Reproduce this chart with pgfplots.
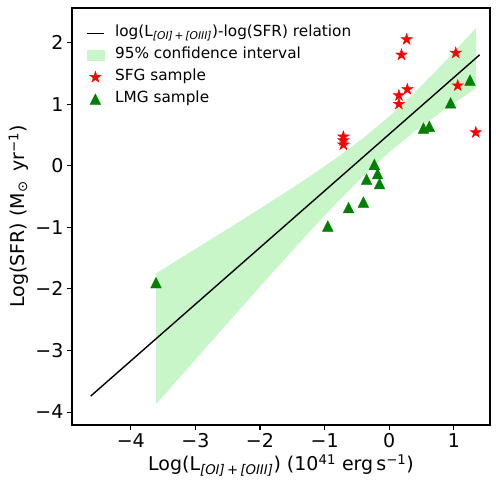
\documentclass[border=0pt]{standalone}
\usepackage{fontspec}
\setmainfont{DejaVu Sans}
\usepackage{pgfplots}
\pgfplotsset{compat=1.18}

\definecolor{bandgreen}{RGB}{200,246,200}
\definecolor{mplgreen}{RGB}{0,128,0}
\definecolor{mplred}{RGB}{255,0,0}

% filled five-pointed star, like matplotlib's '*'
\pgfdeclareplotmark{fstar}{%
  \pgfpathmoveto{\pgfpointpolar{90}{\pgfplotmarksize}}%
  \pgfpathlineto{\pgfpointpolar{126}{0.382\pgfplotmarksize}}%
  \pgfpathlineto{\pgfpointpolar{162}{\pgfplotmarksize}}%
  \pgfpathlineto{\pgfpointpolar{198}{0.382\pgfplotmarksize}}%
  \pgfpathlineto{\pgfpointpolar{234}{\pgfplotmarksize}}%
  \pgfpathlineto{\pgfpointpolar{270}{0.382\pgfplotmarksize}}%
  \pgfpathlineto{\pgfpointpolar{306}{\pgfplotmarksize}}%
  \pgfpathlineto{\pgfpointpolar{342}{0.382\pgfplotmarksize}}%
  \pgfpathlineto{\pgfpointpolar{18}{\pgfplotmarksize}}%
  \pgfpathlineto{\pgfpointpolar{54}{0.382\pgfplotmarksize}}%
  \pgfpathclose
  \pgfusepathqfillstroke}
% triangle as matplotlib draws '^' (centred on its box)
\pgfdeclareplotmark{mtri}{%
  \pgfpathmoveto{\pgfqpoint{0pt}{\pgfplotmarksize}}%
  \pgfpathlineto{\pgfqpoint{-\pgfplotmarksize}{-\pgfplotmarksize}}%
  \pgfpathlineto{\pgfqpoint{\pgfplotmarksize}{-\pgfplotmarksize}}%
  \pgfpathclose
  \pgfusepathqfillstroke}

\pgfplotsset{
  lineleg/.style={legend image code/.code={\draw[##1] (0pt,0pt) -- (17pt,0pt);}},
  boxleg/.style={legend image code/.code={\fill[##1] (0pt,-5pt) rectangle (17pt,5pt);}},
  markleg/.style={legend image code/.code={\draw[##1] plot coordinates {(8.5pt,0pt)};}},
}

\begin{document}
\begin{tikzpicture}
\begin{axis}[
    scale only axis,
    width=418pt, height=417pt,
    xmin=-4.91, xmax=1.56,
    ymin=-4.21, ymax=2.56,
    xtick={-4,-3,-2,-1,0,1},
    xticklabels={−4,−3,−2,−1,0,1},
    ytick={-4,-3,-2,-1,0,1,2},
    yticklabels={−4,−3,−2,−1,0,1,2},
    tick align=outside, tick pos=left,
    major tick length=5pt,
    every tick/.style={black, line width=1.1pt},
    axis line style={line width=1.1pt},
    ticklabel style={font=\fontsize{19}{22}\selectfont},
    label style={font=\fontsize{19}{22}\selectfont},
    xlabel={Log(L\textsubscript{\itshape [OI]\,+\,[OIII]}) (10\textsuperscript{41} erg\,s\textsuperscript{−1})},
    ylabel={Log(SFR) (M\textsubscript{⊙} \,yr\textsuperscript{−1})},
    legend cell align=left,
    legend style={draw=none, fill=none, at={(rel axis cs:0,1)}, anchor=north west,
        xshift=11pt, yshift=-14pt,
        font=\fontsize{15.3}{17}\selectfont,
        nodes={text height=11pt, text depth=4pt, inner sep=1.5pt},
        row sep=4pt, column sep=9pt},
]
% legend handles
\addlegendimage{lineleg, black, line width=1.4pt}
\addlegendentry{log(L\textsubscript{\itshape [OI]\,+\,[OIII]})-log(SFR) relation}
\addlegendimage{boxleg, bandgreen}
\addlegendentry{95\% confidence interval}
\addlegendimage{markleg, only marks, mark=fstar, mark size=6pt, mplred}
\addlegendentry{SFG sample}
\addlegendimage{markleg, only marks, mark=mtri, mark size=5.3pt, mplgreen}
\addlegendentry{LMG sample}

% 95% confidence band (upper edge, then lower edge back)
\addplot[fill=bandgreen, draw=none, forget plot] coordinates {
  (-3.61,-1.747) (-3.2,-1.482) (-2.8,-1.223) (-2.4,-0.961) (-2.0,-0.697)
  (-1.6,-0.428) (-1.2,-0.152) (-0.8,0.137) (-0.4,0.450) (0,0.800)
  (0.4,1.194) (0.8,1.622) (1.1,1.958) (1.34,2.232)
  (1.34,1.254) (1.1,1.086) (0.8,0.870) (0.4,0.562) (0,0.220)
  (-0.4,-0.166) (-0.8,-0.589) (-1.2,-1.036) (-1.6,-1.496) (-2.0,-1.963)
  (-2.4,-2.435) (-2.8,-2.909) (-3.2,-3.386) (-3.61,-3.875)
} -- cycle;

% fitted relation
\addplot[black, line width=1.4pt, forget plot] coordinates {(-4.62,-3.74) (1.40,1.80)};

% SFG sample
\addplot[only marks, mark=fstar, mark size=6pt, mplred, forget plot] coordinates {
  (0.27,2.05) (0.19,1.80) (1.03,1.83) (0.28,1.24) (0.15,1.14) (0.15,1.00)
  (1.06,1.30) (1.34,0.54) (-0.71,0.47) (-0.71,0.41) (-0.71,0.34)
};

% LMG sample
\addplot[only marks, mark=mtri, mark size=5.3pt, mplgreen, forget plot] coordinates {
  (1.25,1.39) (0.95,1.02) (0.53,0.61) (0.62,0.64) (-0.23,0.02) (-0.18,-0.13)
  (-0.35,-0.22) (-0.15,-0.29) (-0.40,-0.59) (-0.63,-0.68) (-0.95,-0.98)
  (-3.61,-1.90)
};
\end{axis}
\path (current axis.south west) ++(-72pt,-55pt) rectangle ++(496pt,480pt);
\end{tikzpicture}
\end{document}
